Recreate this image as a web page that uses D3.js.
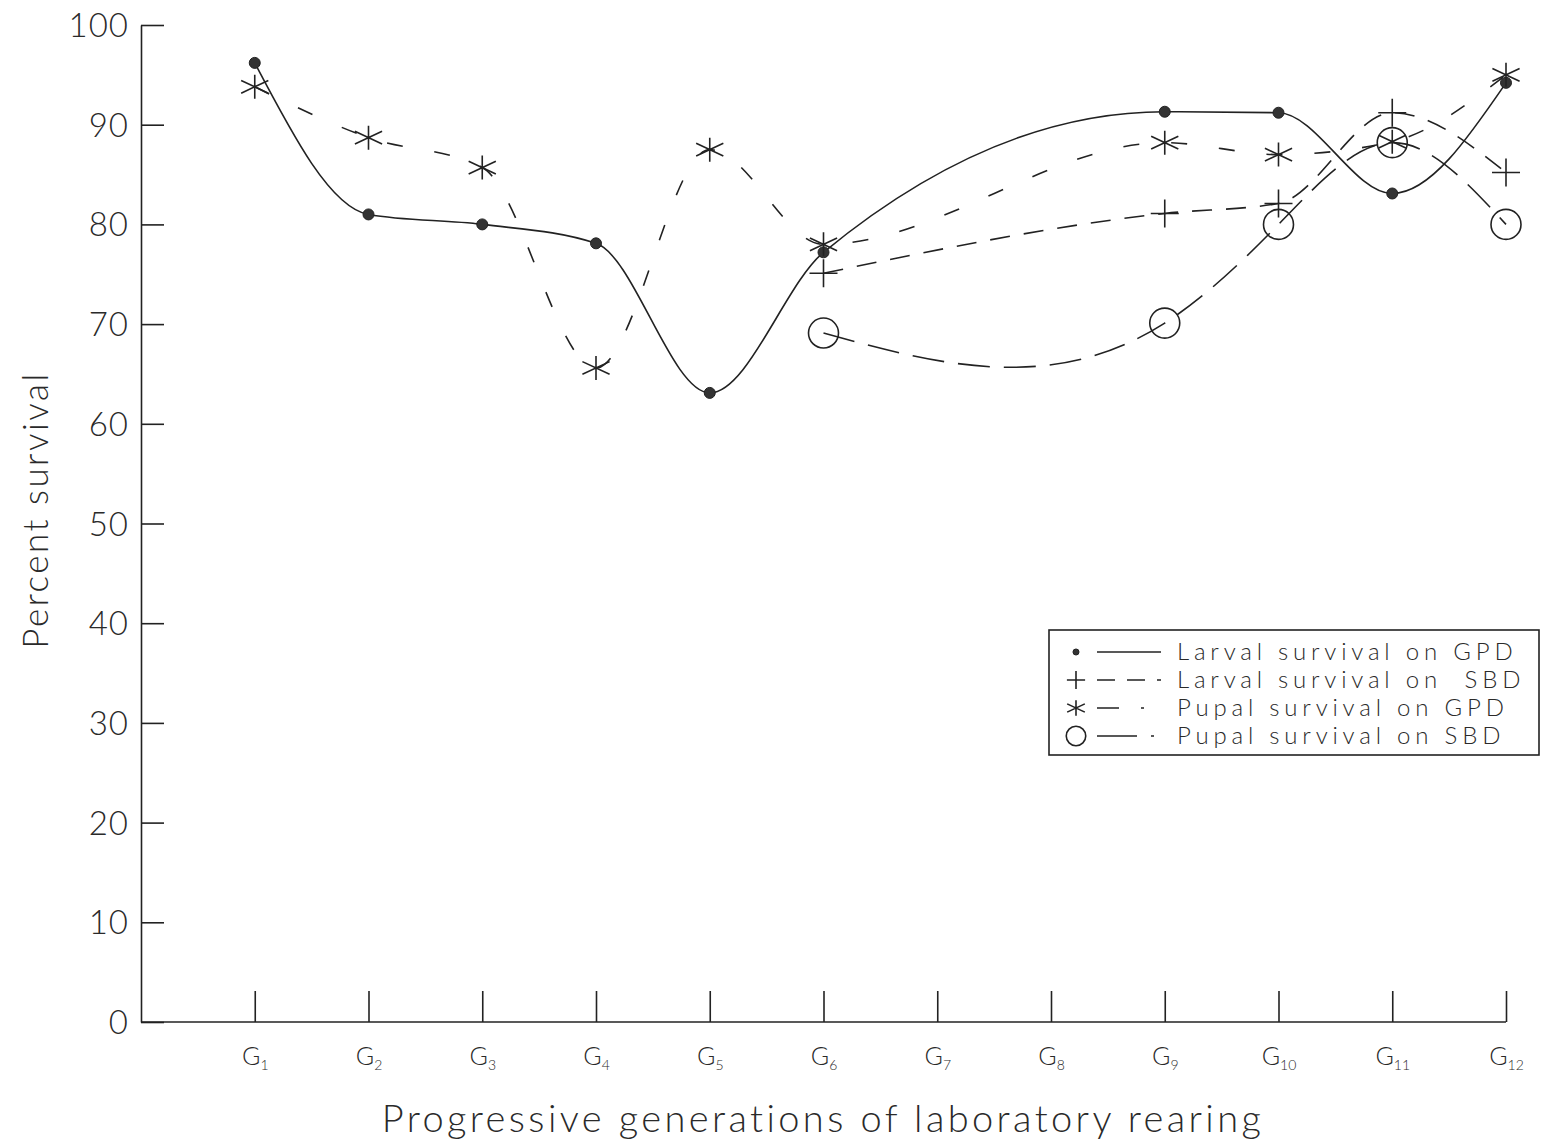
<!DOCTYPE html>
<meta charset="utf-8">
<style>
body { margin: 0; background: #fff; }
text { font-family: Lato, "Open Sans", sans-serif; font-weight: 300; fill: #2a2a2a; }
.axis path, .axis line { stroke: #222; stroke-width: 1.6px; }
.series { fill: none; stroke: #222; stroke-width: 1.6px; }
</style>
<svg width="1542" height="1143"></svg>
<script src="https://d3js.org/d3.v7.min.js"></script>
<script>

// generations G1..G12 (G7, G8 not sampled)
var generations = [1, 2, 3, 4, 5, 6, 7, 8, 9, 10, 11, 12];
var yTicks = [0, 10, 20, 30, 40, 50, 60, 70, 80, 90, 100];

var larvalGPD = [[1, 96.2], [2, 81], [3, 80], [4, 78.1], [5, 63.1], [6, 77.2], [9, 91.3], [10, 91.2], [11, 83.1], [12, 94.2]];
var larvalSBD = [[6, 75.1], [9, 81.1], [10, 82.1], [11, 91.2], [12, 85.2]];
var pupalGPD = [[1, 93.8], [2, 88.7], [3, 85.7], [4, 65.6], [5, 87.5], [6, 78], [9, 88.2], [10, 87], [11, 88.3], [12, 95]];
var pupalSBD = [[6, 69.1], [9, 70.1], [10, 80], [11, 88.2], [12, 80]];

var legendLabels = ["Larval survival on GPD", "Larval survival on  SBD", "Pupal survival on GPD", "Pupal survival on SBD"];

var svg = d3.select("svg");

var x = d3.scaleLinear().domain([0, 12]).range([141, 1506]);
var y = d3.scaleLinear().domain([0, 100]).range([1022, 25]);

// y axis, ticks pointing inward
var yAxis = svg.append("g")
    .attr("class", "axis")
    .attr("transform", "translate(" + x(0) + ",0)")
    .call(d3.axisLeft(y).tickValues(yTicks).tickSizeInner(-23).tickSizeOuter(0).tickPadding(12));
yAxis.selectAll("text").style("font-size", "33px").style("letter-spacing", "1px").attr("dy", "0.35em");

// x axis, ticks pointing up
var xAxis = svg.append("g")
    .attr("class", "axis")
    .attr("transform", "translate(0," + y(0) + ")")
    .call(d3.axisBottom(x).tickValues(generations).tickSizeInner(-31).tickSizeOuter(0).tickFormat(""));
xAxis.select(".domain").attr("d", "M" + x(0) + ",0H" + x(12));

xAxis.selectAll(".tick").append("text")
    .attr("y", 43)
    .attr("text-anchor", "middle")
    .style("font-size", "25px")
    .each(function(d) {
      var t = d3.select(this);
      t.append("tspan").text("G");
      t.append("tspan").attr("dy", 5).style("font-size", "14px").text(d);
    });

// axis titles
svg.append("text")
    .attr("x", 823).attr("y", 1132)
    .attr("text-anchor", "middle")
    .style("font-size", "38px")
    .style("letter-spacing", "3.4px")
    .text("Progressive generations of laboratory rearing");

svg.append("text")
    .attr("transform", "translate(48,510) rotate(-90)")
    .attr("text-anchor", "middle")
    .style("font-size", "35px")
    .style("letter-spacing", "2.5px")
    .text("Percent survival");

// natural cubic spline with y as a function of x
function curveNaturalX(context) {
  var xs, ys;
  return {
    areaStart: function() {}, areaEnd: function() {},
    lineStart: function() { xs = []; ys = []; },
    point: function(px, py) { xs.push(px); ys.push(py); },
    lineEnd: function() {
      var n = xs.length, i;
      if (!n) return;
      context.moveTo(xs[0], ys[0]);
      if (n < 3) { if (n === 2) context.lineTo(xs[1], ys[1]); return; }
      var h = [], d = [];
      for (i = 0; i < n - 1; i++) { h[i] = xs[i + 1] - xs[i]; d[i] = (ys[i + 1] - ys[i]) / h[i]; }
      var a = [], b = [], c = [], r = [], M = new Array(n).fill(0);
      for (i = 1; i < n - 1; i++) {
        a[i] = h[i - 1]; b[i] = 2 * (h[i - 1] + h[i]); c[i] = h[i]; r[i] = 6 * (d[i] - d[i - 1]);
      }
      for (i = 2; i < n - 1; i++) {
        var m = a[i] / b[i - 1];
        b[i] -= m * c[i - 1]; r[i] -= m * r[i - 1];
      }
      M[n - 2] = r[n - 2] / b[n - 2];
      for (i = n - 3; i >= 1; i--) M[i] = (r[i] - c[i] * M[i + 1]) / b[i];
      for (i = 0; i < n - 1; i++) {
        var s0 = d[i] - h[i] * (2 * M[i] + M[i + 1]) / 6,
            s1 = d[i] + h[i] * (M[i] + 2 * M[i + 1]) / 6,
            k = h[i] / 3;
        context.bezierCurveTo(xs[i] + k, ys[i] + s0 * k, xs[i + 1] - k, ys[i + 1] - s1 * k, xs[i + 1], ys[i + 1]);
      }
    }
  };
}

var series = [
  { data: larvalGPD, dash: null, mark: "dot", curve: d3.curveMonotoneX },
  { data: larvalSBD, dash: "20,14", mark: "plus", curve: d3.curveMonotoneX },
  { data: pupalGPD, dash: "16,32", mark: "star", curve: d3.curveMonotoneX },
  { data: pupalSBD, dash: "32,14", mark: "circle", curve: curveNaturalX }
];

function drawMark(g, type, cx, cy, s) {
  s = s || 1;
  if (type === "dot") {
    g.append("circle").attr("cx", cx).attr("cy", cy).attr("r", 5.5 * s)
      .attr("fill", "#333").attr("stroke", "#222").attr("stroke-width", 1);
  } else if (type === "plus") {
    var h = 14 * s;
    g.append("path").attr("d", "M" + (cx - h) + "," + cy + "H" + (cx + h) + "M" + cx + "," + (cy - h) + "V" + (cy + h))
      .attr("stroke", "#222").attr("stroke-width", 1.6).attr("fill", "none");
  } else if (type === "star") {
    var p = "", v = 12 * s, r = 15 * s;
    p += "M" + cx + "," + (cy - v) + "V" + (cy + v);
    [25, -25].forEach(function(a) {
      var rad = a * Math.PI / 180, dx = r * Math.cos(rad), dy = r * Math.sin(rad);
      p += "M" + (cx - dx) + "," + (cy - dy) + "L" + (cx + dx) + "," + (cy + dy);
    });
    g.append("path").attr("d", p).attr("stroke", "#222").attr("stroke-width", 1.6).attr("fill", "none");
  } else {
    g.append("circle").attr("cx", cx).attr("cy", cy).attr("r", 15 * s)
      .attr("fill", "none").attr("stroke", "#222").attr("stroke-width", 1.6);
  }
}

series.forEach(function(s) {
  var line = d3.line()
      .x(function(d) { return x(d[0]); })
      .y(function(d) { return y(d[1]); })
      .curve(s.curve);
  svg.append("path")
    .datum(s.data)
    .attr("class", "series")
    .attr("stroke-dasharray", s.dash)
    .attr("d", line);
  var g = svg.append("g");
  s.data.forEach(function(d) { drawMark(g, s.mark, x(d[0]), y(d[1])); });
});

// legend
var legendDash = [null, "18,12", "22,22,3,40", "40,14,3,40"];
var lg = svg.append("g").attr("transform", "translate(1049,630)");
lg.append("rect").attr("width", 490).attr("height", 125)
  .attr("fill", "#fff").attr("stroke", "#222").attr("stroke-width", 1.6);

series.forEach(function(s, i) {
  var cy = 22 + i * 28;
  drawMark(lg, s.mark, 27, cy, s.mark === "dot" ? 0.55 : 0.65);
  lg.append("path")
    .attr("d", "M48," + cy + "H112")
    .attr("class", "series")
    .attr("stroke-dasharray", legendDash[i]);
  lg.append("text")
    .attr("x", 128).attr("y", cy).attr("dy", "0.35em")
    .style("font-size", "24px")
    .style("letter-spacing", "4.8px")
    .style("white-space", "pre")
    .text(legendLabels[i]);
});

</script>
